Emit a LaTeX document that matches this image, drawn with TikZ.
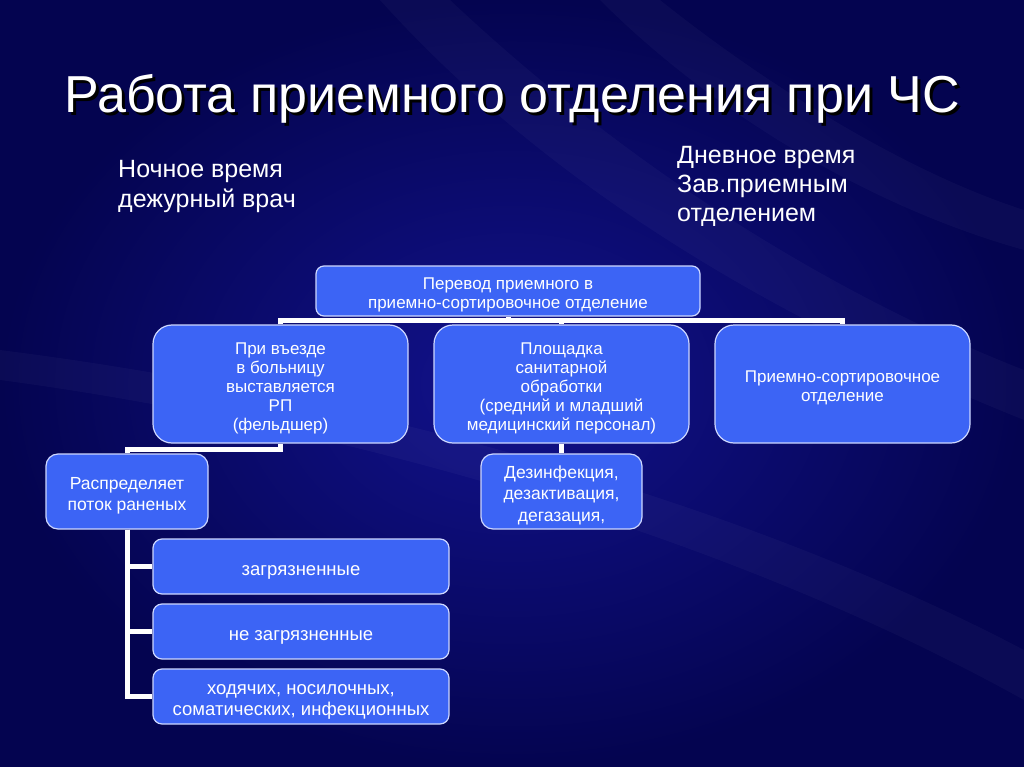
\documentclass[tikz,border=0pt]{standalone}
\usepackage{fontspec}
\setmainfont{Liberation Sans}
\usetikzlibrary{calc}
\definecolor{bgmid}{RGB}{18,18,140}
\definecolor{bgdark}{RGB}{4,4,80}
\definecolor{boxblue}{RGB}{60,100,245}
\definecolor{boxedge}{RGB}{205,215,255}
\newcommand\fl{\rule{0pt}{1.15em}}
\begin{document}
\begin{tikzpicture}[x=1pt,y=-1pt,
  box/.style={draw=boxedge, line width=1.2pt, fill=boxblue, text=white, align=center,
    inner sep=0pt, font=\fontsize{17}{19}\selectfont},
  bigbox/.style={box, font=\fontsize{17.5}{21.5}\selectfont},
  zbox/.style={box, font=\fontsize{18.5}{21}\selectfont},
  conn/.style={draw=white, line width=5pt, line join=miter},
  streak/.style={fill=white, fill opacity=0.03},
  sub/.style={text=white, anchor=base west, align=left, inner sep=0pt}]
\useasboundingbox (0,0) rectangle (1024,767);
% background
\shade[inner color=bgmid, outer color=bgdark] (0,0) rectangle (1024,767);
\fill[streak] (380,0) .. controls (560,200) and (800,330) .. (1024,420) -- (1024,370) .. controls (820,290) and (620,160) .. (450,0) -- cycle;
\fill[streak] (600,0) .. controls (720,120) and (880,210) .. (1024,250) -- (1024,210) .. controls (900,170) and (760,80) .. (660,0) -- cycle;
\fill[streak] (0,380) .. controls (300,420) and (700,520) .. (1024,700) -- (1024,650) .. controls (720,490) and (320,390) .. (0,350) -- cycle;
% title
\node[text=black, anchor=base, inner sep=0pt, font=\fontsize{52}{60}\selectfont] (titleshadow) at (515,116) {Работа приемного отделения при ЧС};
\node[text=white, anchor=base, inner sep=0pt, font=\fontsize{52}{60}\selectfont] (title) at (512,113) {Работа приемного отделения при ЧС};
% subtitles
\node[sub, font=\fontsize{25}{31}\selectfont] (night) at (118,208) {Ночное время\\дежурный врач};
\node[sub, font=\fontsize{25}{29}\selectfont] (day) at (677,222) {Дневное время\\Зав.приемным\\отделением};
% boxes
\node[box, rounded corners=8pt, minimum width=384pt, minimum height=50pt] (top) at (508,291) {\fl Перевод приемного в\\приемно-сортировочное отделение};
\node[box, rounded corners=19pt, minimum width=255pt, minimum height=118pt] (b1) at (280.5,384) {\fl При въезде\\в больницу\\выставляется\\РП\\(фельдшер)};
\node[box, rounded corners=19pt, minimum width=255pt, minimum height=118pt] (b2) at (561.5,384) {\fl Площадка\\санитарной\\обработки\\(средний и младший\\медицинский персонал)};
\node[box, rounded corners=19pt, minimum width=255pt, minimum height=118pt] (b3) at (842.5,384) {\fl Приемно-сортировочное\\отделение};
\node[bigbox, rounded corners=12pt, minimum width=162pt, minimum height=75pt] (rasp) at (127,491.5) {\fl Распределяет\\поток раненых};
\node[bigbox, rounded corners=12pt, minimum width=161pt, minimum height=75pt] (dez) at (561.5,491.5) {\fl Дезинфекция,\\дезактивация,\\дегазация,};
\node[zbox, rounded corners=9pt, minimum width=296pt, minimum height=55pt] (z1) at (301,566.5) {\fl загрязненные};
\node[zbox, rounded corners=9pt, minimum width=296pt, minimum height=55pt] (z2) at (301,631.5) {\fl не загрязненные};
\node[zbox, rounded corners=9pt, minimum width=296pt, minimum height=55pt] (z3) at (301,696.5) {\fl ходячих,  носилочных,\\соматических,  инфекционных};
% connectors
\coordinate (bus) at ($(top.south)+(0,4)$);
\draw[conn] (top.south) -- (bus);
\draw[conn] (b1.north) |- (bus) -| (b3.north);
\draw[conn] (b2.north) -- (b2.north |- bus);
\draw[conn] (b1.south) -- ++(0,6) -| (rasp.north);
\draw[conn] (rasp.south) |- (z1.west);
\draw[conn] (rasp.south) |- (z2.west);
\draw[conn] (rasp.south) |- (z3.west);
\draw[conn] (b2.south) -- (dez.north);
\end{tikzpicture}
\end{document}
